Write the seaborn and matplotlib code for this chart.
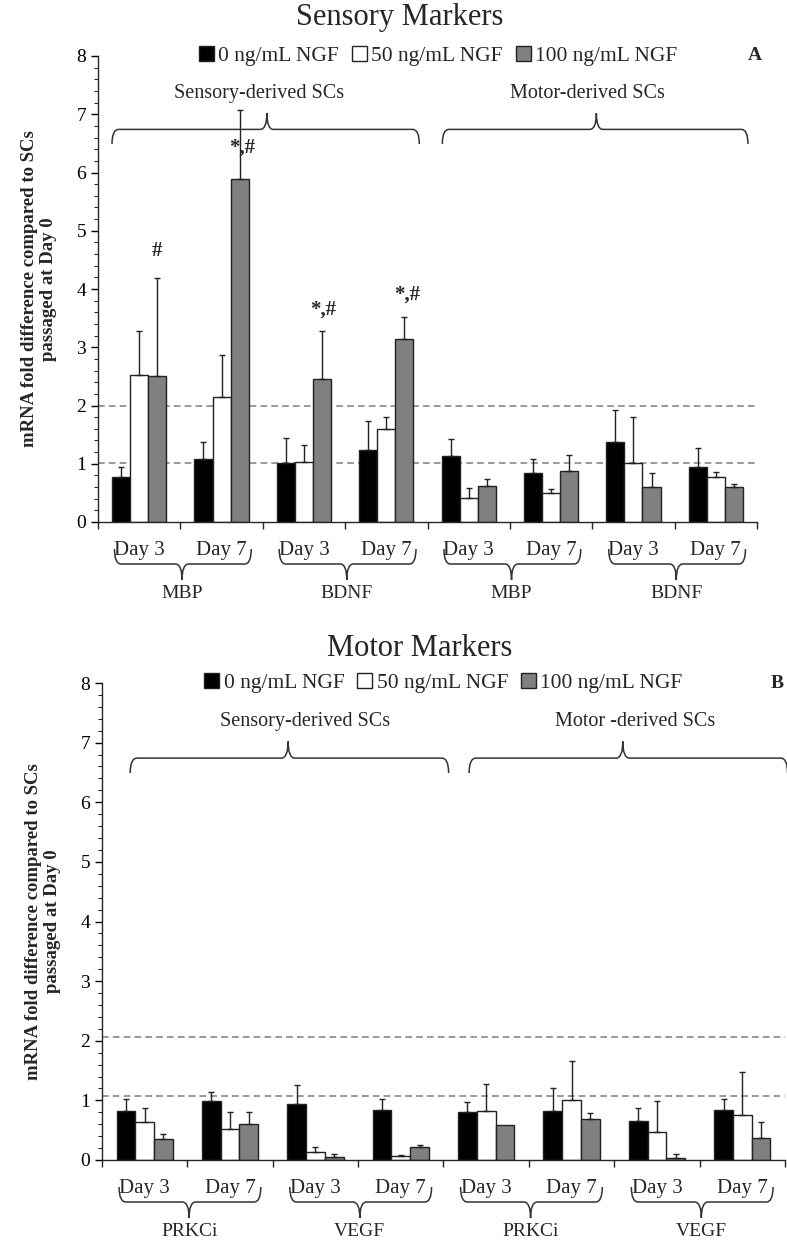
import numpy as np
import pandas as pd
import matplotlib
matplotlib.use("Agg")
import matplotlib.pyplot as plt
from matplotlib.path import Path
from matplotlib.patches import PathPatch, Patch
from matplotlib.ticker import MultipleLocator
import seaborn as sns

# categories
groups = ["s_d3_a", "s_d7_a", "s_d3_b", "s_d7_b", "m_d3_a", "m_d7_a", "m_d3_b", "m_d7_b"]
day_labels = ["Day 3", "Day 7"] * 4
concs = ["0 ng/mL NGF", "50 ng/mL NGF", "100 ng/mL NGF"]
bar_colors = ["black", "white", "#808080"]

# Panel A - sensory markers (MBP, BDNF)
markers_a = ["MBP", "BDNF", "MBP", "BDNF"]
a_0 = [0.77, 1.09, 1.02, 1.23, 1.13, 0.84, 1.38, 0.94]
a_50 = [2.53, 2.15, 1.03, 1.59, 0.41, 0.49, 1.01, 0.78]
a_100 = [2.51, 5.89, 2.46, 3.14, 0.62, 0.88, 0.60, 0.60]
a_0_sd = [0.17, 0.28, 0.43, 0.51, 0.29, 0.24, 0.55, 0.33]
a_50_sd = [0.75, 0.71, 0.30, 0.22, 0.17, 0.07, 0.79, 0.08]
a_100_sd = [1.68, 1.19, 0.82, 0.38, 0.12, 0.27, 0.24, 0.05]
a_refs = [1.01, 2.0]
a_stars = ["#", "*,#", "*,#", "*,#"]
a_star_x = [0.22, 1.25, 2.23, 3.25]
a_star_y = [4.66, 6.42, 3.64, 3.90]

# Panel B - motor markers (PRKCi, VEGF)
markers_b = ["PRKCi", "VEGF", "PRKCi", "VEGF"]
b_0 = [0.82, 0.99, 0.94, 0.84, 0.81, 0.82, 0.66, 0.84]
b_50 = [0.64, 0.52, 0.13, 0.07, 0.82, 1.00, 0.47, 0.75]
b_100 = [0.36, 0.60, 0.05, 0.21, 0.58, 0.68, 0.04, 0.37]
b_0_sd = [0.21, 0.15, 0.32, 0.18, 0.16, 0.39, 0.22, 0.18]
b_50_sd = [0.24, 0.29, 0.08, 0.01, 0.46, 0.66, 0.52, 0.73]
b_100_sd = [0.07, 0.20, 0.05, 0.04, 0.00, 0.10, 0.06, 0.27]
b_refs = [1.08, 2.06]

serif = ["Liberation Serif", "DejaVu Serif"]
sns.set_style("ticks")
plt.rcParams["font.family"] = serif
plt.rcParams["axes.linewidth"] = 1.0

FIG_H = 1241


def brace(ax, x0, x1, xm, y_end, y_line, y_tip, w=0.08, color="#333333"):
    verts = [(x0, y_end), (x0, y_line), (x0 + w, y_line), (xm - w, y_line),
             (xm, y_line), (xm, y_tip), (xm, y_line), (xm + w, y_line),
             (x1 - w, y_line), (x1, y_line), (x1, y_end)]
    codes = [Path.MOVETO, Path.CURVE3, Path.CURVE3, Path.LINETO,
             Path.CURVE3, Path.CURVE3, Path.CURVE3, Path.CURVE3,
             Path.LINETO, Path.CURVE3, Path.CURVE3]
    ax.add_patch(PathPatch(Path(verts, codes), fill=False, edgecolor=color,
                           lw=1.1, clip_on=False))


def panel(ax, vals, sds, refs, markers, letter, letter_x, top_texts, top_braces, leg_x):
    df = pd.DataFrame({
        "group": groups * 3,
        "conc": np.repeat(concs, len(groups)),
        "value": np.concatenate(vals),
    })
    sns.barplot(data=df, x="group", y="value", hue="conc", palette=bar_colors,
                width=0.66, edgecolor="#222222", linewidth=1.0, errorbar=None,
                legend=False, ax=ax)
    for cont, sd in zip(ax.containers, sds):
        for bar, s in zip(cont, sd):
            if s <= 0:
                continue
            xc = bar.get_x() + bar.get_width() / 2
            ax.errorbar(xc, bar.get_height(), yerr=[[0], [s]], fmt="none",
                        ecolor="#222222", elinewidth=1.0, capsize=2.5,
                        capthick=1.0, zorder=1)
    for r in refs:
        ax.axhline(r, color="#888888", ls="--", lw=1.2, dashes=(4, 2.5), zorder=0)

    ax.set_xlim(-0.5, 7.5)
    ax.set_ylim(0, 8)
    ax.yaxis.set_major_locator(MultipleLocator(1))
    ax.yaxis.set_minor_locator(MultipleLocator(0.2))
    ax.set_xticks(np.arange(-0.5, 8, 1))
    ax.set_xticklabels([])
    ax.tick_params(axis="y", which="major", length=5, width=1, labelsize=14,
                   colors="black")
    ax.tick_params(axis="y", which="minor", length=3, width=0.8)
    ax.tick_params(axis="x", length=5, width=1)
    ax.set_xlabel("")
    ax.set_ylabel("mRNA fold difference compared to SCs\npassaged at Day 0",
                  fontsize=13.5, fontweight="bold", labelpad=14, linespacing=1.15)
    sns.despine(ax=ax)

    # pixel offsets below the x axis, converted to data units
    unit = ax.get_position().height * FIG_H / 8

    def below(px):
        return -px / unit

    for i, lab in enumerate(day_labels):
        ax.text(i, below(29), lab, ha="center", va="center", fontsize=15,
                clip_on=False)
    for k, m in enumerate(markers):
        g = 2 * k
        brace(ax, g - 0.3, g + 1.36, g + 0.52, below(27), below(42), below(58))
        ax.text(g + 0.52, below(71), m, ha="center", va="center", fontsize=14)

    # upper annotations
    for (x0, x1, xm), (tx, txt) in zip(top_braces, top_texts):
        brace(ax, x0, x1, xm, 6.49, 6.74, 7.02)
        ax.text(tx, 7.36, txt, ha="center", va="center", fontsize=14.5)
    ax.text(letter_x, 8.0, letter, ha="center", va="center", fontsize=14,
            fontweight="bold", clip_on=False)

    handles = [Patch(facecolor=c, edgecolor="#222222", lw=1.0) for c in bar_colors]
    ax.legend(handles, concs, loc="center", bbox_to_anchor=(leg_x, 1.0),
              ncol=3, frameon=False, fontsize=15.5, handlelength=0.7,
              handleheight=0.7, handletextpad=0.2, columnspacing=0.6,
              borderaxespad=0)


fig = plt.figure(figsize=(7.87, 12.41), dpi=100)
ax_a = fig.add_axes([98 / 787, 1 - 522 / FIG_H, 659 / 787, 466 / FIG_H])
ax_b = fig.add_axes([102 / 787, 1 - 1160 / FIG_H, 683 / 787, 477 / FIG_H])

panel(ax_a, [a_0, a_50, a_100], [a_0_sd, a_50_sd, a_100_sd], a_refs, markers_a,
      "A", 7.47,
      [(1.45, "Sensory-derived SCs"), (5.44, "Motor-derived SCs")],
      [(-0.33, 3.4, 1.55), (3.68, 7.39, 5.55)], 0.516)
for t, x, y in zip(a_stars, a_star_x, a_star_y):
    ax_a.text(x, y, t, ha="center", va="center", fontsize=15, fontweight="bold")

panel(ax_b, [b_0, b_50, b_100], [b_0_sd, b_50_sd, b_100_sd], b_refs, markers_b,
      "B", 7.41,
      [(1.88, "Sensory-derived SCs"), (5.74, "Motor -derived SCs")],
      [(-0.17, 3.56, 1.68), (3.8, 7.53, 5.6)], 0.5)

fig.text(0.508, 1 - 18 / FIG_H, "Sensory Markers", ha="center", va="center", fontsize=22)
fig.text(0.533, 1 - 648 / FIG_H, "Motor Markers", ha="center", va="center", fontsize=22)

fig.savefig("out.png", dpi=100)
